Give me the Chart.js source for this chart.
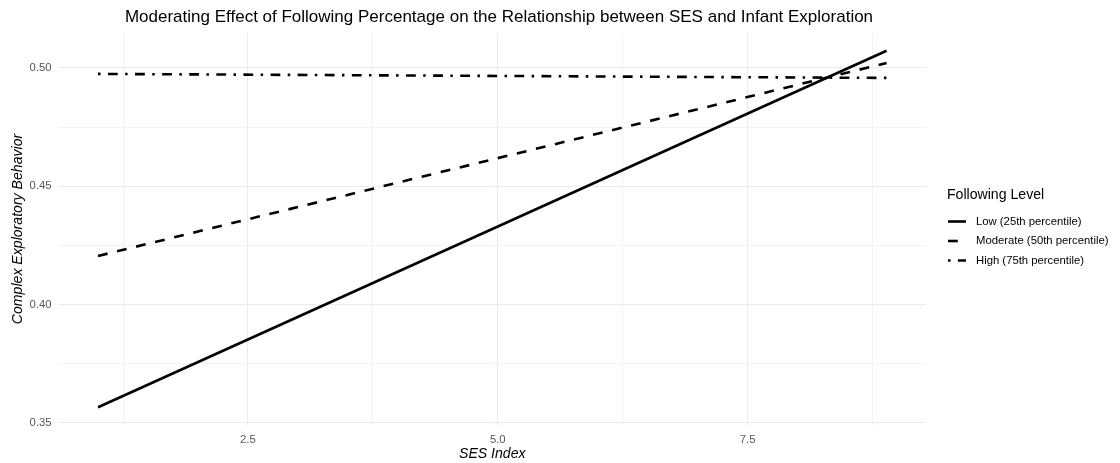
<!DOCTYPE html>
<html>
<head>
<meta charset="utf-8">
<title>Following Level</title>
<script src="https://cdn.jsdelivr.net/npm/chart.js@4.4.1/dist/chart.umd.min.js"></script>
<style>
    body { margin: 0; background: #fff; }
    #wrap { width: 1120px; height: 463px; }
</style>
</head>
<body>
<div id="wrap"><canvas id="grafica" width="1120" height="463"></canvas></div>
<script>
// Datos
const sesIndex = [1.0, 8.89];
const lowVals = [0.3565, 0.5073];
const moderateVals = [0.4205, 0.5021];
const highVals = [0.4975, 0.4958];

const seriesNames = ['Low (25th percentile)', 'Moderate (50th percentile)', 'High (75th percentile)'];

const xMajor = [2.5, 5.0, 7.5];
const xMinor = [1.25, 3.75, 6.25, 8.75];
const yMajor = [0.35, 0.40, 0.45, 0.50];
const yMinor = [0.375, 0.425, 0.475];

const FONT = "'Liberation Sans', Arial, sans-serif";
const dashes = [[], [9.8, 9.8], [2.5, 7.4, 9.8, 7.4]];

const isMajor = (list, v) => list.some(m => Math.abs(m - v) < 1e-6);
const toPoints = vals => sesIndex.map((x, i) => ({ x: x, y: vals[i] }));

// Titulo y leyenda dibujados a mano
const extras = {
    id: 'extras',
    afterDraw(chart) {
        const c = chart.ctx;
        c.save();
        c.fillStyle = '#000';
        c.textBaseline = 'middle';
        c.textAlign = 'center';
        c.font = '17px ' + FONT;
        c.fillText('Moderating Effect of Following Percentage on the Relationship between SES and Infant Exploration', 499, 17);

        c.textAlign = 'left';
        c.font = '14.1px ' + FONT;
        c.fillText('Following Level', 947, 195);

        c.font = '11.3px ' + FONT;
        const rows = [221.5, 241, 260.5];
        seriesNames.forEach((name, i) => {
            c.beginPath();
            c.setLineDash(dashes[i]);
            c.lineWidth = 2.6;
            c.strokeStyle = '#000';
            c.moveTo(948, rows[i]);
            c.lineTo(966, rows[i]);
            c.stroke();
            c.setLineDash([]);
            c.fillText(name, 976, rows[i]);
        });
        c.restore();
    }
};

const ctx = document.getElementById('grafica').getContext('2d');
new Chart(ctx, {
    type: 'line',
    data: {
        datasets: [lowVals, moderateVals, highVals].map((vals, i) => ({
            label: seriesNames[i],
            data: toPoints(vals),
            borderColor: '#000',
            borderWidth: 2.6,
            borderDash: dashes[i],
            borderCapStyle: 'butt',
            pointRadius: 0,
            tension: 0,
            fill: false
        }))
    },
    options: {
        responsive: false,
        animation: false,
        layout: { padding: { top: 33, right: 194, bottom: 0, left: 0 } },
        plugins: {
            legend: { display: false },
            title: { display: false },
            tooltip: { enabled: false }
        },
        scales: {
            x: {
                type: 'linear',
                min: 0.6055,
                max: 9.2845,
                afterBuildTicks: s => { s.ticks = xMinor.concat(xMajor).sort((a, b) => a - b).map(v => ({ value: v })); },
                afterFit: s => { s.height = 38; },
                border: { display: false },
                grid: {
                    drawTicks: false,
                    color: c => isMajor(xMajor, c.tick.value) ? '#ebebeb' : '#f3f3f3',
                    lineWidth: 1
                },
                ticks: {
                    padding: 8,
                    color: '#555',
                    font: { family: FONT, size: 11.3 },
                    maxRotation: 0,
                    autoSkip: false,
                    callback: v => isMajor(xMajor, v) ? v.toFixed(1) : ''
                },
                title: {
                    display: true,
                    text: 'SES Index',
                    color: '#000',
                    font: { family: FONT, size: 14.1, style: 'italic' },
                    padding: { top: 0, bottom: 0 }
                }
            },
            y: {
                type: 'linear',
                min: 0.349,
                max: 0.5148,
                afterBuildTicks: s => { s.ticks = yMinor.concat(yMajor).sort((a, b) => a - b).map(v => ({ value: v })); },
                afterFit: s => { s.width = 58.6; },
                border: { display: false },
                grid: {
                    drawTicks: false,
                    color: c => isMajor(yMajor, c.tick.value) ? '#ebebeb' : '#f3f3f3',
                    lineWidth: 1
                },
                ticks: {
                    padding: 7,
                    color: '#555',
                    font: { family: FONT, size: 11.3 },
                    autoSkip: false,
                    callback: v => isMajor(yMajor, v) ? v.toFixed(2) : ''
                },
                title: {
                    display: true,
                    text: 'Complex Exploratory Behavior',
                    color: '#000',
                    font: { family: FONT, size: 14.1, style: 'italic' },
                    padding: { top: 10, bottom: 0 }
                }
            }
        }
    },
    plugins: [extras]
});
</script>
</body>
</html>
